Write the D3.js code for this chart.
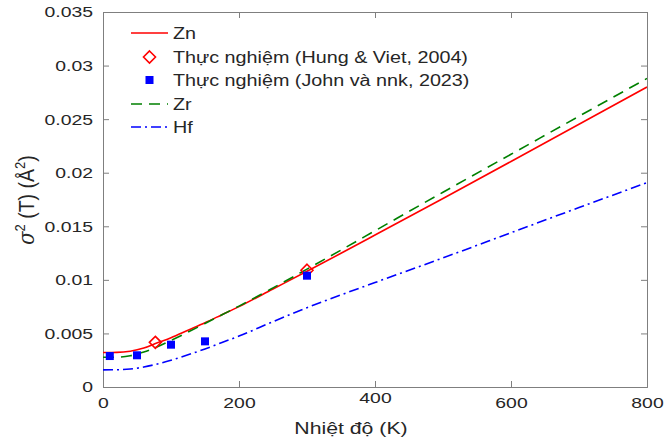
<!DOCTYPE html>
<html><head><meta charset="utf-8">
<script src="https://cdn.jsdelivr.net/npm/d3@7"></script>
<style>body{margin:0;background:#fff;} text{font-family:"Liberation Sans",Arial,sans-serif;}</style>
</head><body>
<svg id="c" width="665" height="440"></svg>
<script>
const temps = [0, 20, 40, 60, 80, 100, 125, 150, 175, 200, 250, 300, 350, 400, 500, 600, 700, 800];
const zn = [0.00322, 0.00323, 0.00334, 0.00363, 0.00412, 0.00460, 0.00530, 0.00600, 0.00675, 0.00750, 0.00915, 0.01080, 0.01248, 0.01418, 0.01760, 0.02105, 0.02452, 0.02800];
const zr = [0.00277, 0.00278, 0.00292, 0.00326, 0.00376, 0.00435, 0.00512, 0.00593, 0.00674, 0.00755, 0.00925, 0.01100, 0.01278, 0.01458, 0.01818, 0.02172, 0.02527, 0.02880];
const hf = [0.00160, 0.00161, 0.00168, 0.00186, 0.00215, 0.00250, 0.00300, 0.00355, 0.00415, 0.00475, 0.00610, 0.00740, 0.00860, 0.00975, 0.01205, 0.01440, 0.01675, 0.01907];
const hungT = [77, 300];
const hungV = [0.00417, 0.01090];
const johnT = [10, 50, 100, 150, 300];
const johnV = [0.00289, 0.00296, 0.00395, 0.00426, 0.01039];
const xTicks = [0, 200, 400, 600, 800];
const yTicks = [0, 0.005, 0.01, 0.015, 0.02, 0.025, 0.03, 0.035];
const legendLabels = ["Zn", "Thực nghiệm (Hung & Viet, 2004)", "Thực nghiệm (John và nnk, 2023)", "Zr", "Hf"];

const svg = d3.select("#c");
const L = 103, R = 647, T = 12, B = 387;
const x = d3.scaleLinear().domain([0, 800]).range([L, R]);
const y = d3.scaleLinear().domain([0, 0.035]).range([B, T]);
const axisCol = "#7f7f7f", txtCol = "#262626";

svg.append("clipPath").attr("id","pc").append("rect")
  .attr("x", L).attr("y", T).attr("width", R-L).attr("height", B-T);

function styleAxis(g){
  g.selectAll("path").attr("stroke", axisCol);
  g.selectAll("line").attr("stroke", axisCol);
  g.selectAll("text").attr("fill", txtCol).style("font-size","15.5px").classed("hs", true);
}
const fmtY = d => d === 0 ? "0" : String(+d.toFixed(3));
const xb = svg.append("g").attr("transform",`translate(0,${B})`)
  .call(d3.axisBottom(x).tickValues(xTicks).tickSize(-6).tickPadding(10).tickFormat(d3.format("d")))
  .call(styleAxis);
xb.selectAll(".tick text").filter(d => d === 400).attr("y", 5);
svg.append("g").attr("transform",`translate(0,${T})`)
  .call(d3.axisTop(x).tickValues(xTicks).tickSize(-6).tickFormat(""))
  .call(styleAxis);
svg.append("g").attr("transform",`translate(${L},0)`)
  .call(d3.axisLeft(y).tickValues(yTicks).tickSize(-6).tickPadding(10).tickFormat(fmtY))
  .call(styleAxis);
svg.append("g").attr("transform",`translate(${R},0)`)
  .call(d3.axisRight(y).tickValues(yTicks).tickSize(-6).tickFormat(""))
  .call(styleAxis);
svg.selectAll(".domain").attr("stroke", axisCol).attr("stroke-width", 1);

const plot = svg.append("g").attr("clip-path","url(#pc)");
const line = d3.line().x(d => x(d[0])).y(d => y(d[1])).curve(d3.curveMonotoneX);
const series = [
  {v: zn, color: "#ff0000", dash: null},
  {v: zr, color: "#008000", dash: "11,7"},
  {v: hf, color: "#0000ff", dash: "10,4,2,4"}
];
series.forEach(s => {
  plot.append("path").datum(temps.map((t,i)=>[t, s.v[i]]))
    .attr("d", line).attr("fill","none").attr("stroke", s.color)
    .attr("stroke-width", 1.6).attr("stroke-dasharray", s.dash);
});
const dsz = 6;
plot.selectAll(".dia").data(hungT.map((t,i)=>[t,hungV[i]])).enter().append("path")
  .attr("d", d => `M${x(d[0])},${y(d[1])-dsz}L${x(d[0])+dsz},${y(d[1])}L${x(d[0])},${y(d[1])+dsz}L${x(d[0])-dsz},${y(d[1])}Z`)
  .attr("fill","none").attr("stroke","#ff0000").attr("stroke-width",1.6);
const sq = 8;
plot.selectAll(".sq").data(johnT.map((t,i)=>[t,johnV[i]])).enter().append("rect")
  .attr("x", d => x(d[0]) - sq/2).attr("y", d => y(d[1]) - sq/2)
  .attr("width", sq).attr("height", sq).attr("fill","#0000ff");

// legend
const lg = svg.append("g");
const rowY = [33, 57, 80, 104, 127];
const lx0 = 131, lx1 = 168;
legendLabels.forEach((lab,i) => {
  const yy = rowY[i];
  const cx = (lx0+lx1)/2;
  if (i === 0 || i === 3 || i === 4) {
    const s = series[i===0?0:(i===3?1:2)];
    lg.append("line").attr("x1",lx0).attr("x2",lx1).attr("y1",yy).attr("y2",yy)
      .attr("stroke", s.color).attr("stroke-width",1.6).attr("stroke-dasharray", s.dash);
  } else if (i === 1) {
    lg.append("path").attr("d",`M${cx},${yy-dsz}L${cx+dsz},${yy}L${cx},${yy+dsz}L${cx-dsz},${yy}Z`)
      .attr("fill","none").attr("stroke","#ff0000").attr("stroke-width",1.6);
  } else {
    lg.append("rect").attr("x",cx-sq/2).attr("y",yy-sq/2).attr("width",sq).attr("height",sq).attr("fill","#0000ff");
  }
  lg.append("text").attr("class","hs").attr("x",173).attr("y",yy).attr("dy","0.36em")
    .attr("fill",txtCol).style("font-size","15.8px").text(lab);
});

// axis labels
svg.append("text").attr("class","hs").attr("x",351).attr("y",434).attr("text-anchor","middle")
  .attr("fill",txtCol).style("font-size","17px").text("Nhiệt độ (K)");
const yl = svg.append("text").attr("transform","translate(34,200) rotate(-90) scale(1,1.15)")
  .attr("text-anchor","middle").attr("fill",txtCol).style("font-size","19.5px");
yl.append("tspan").style("font-family","'DejaVu Serif',serif").style("font-style","italic").text("σ");
yl.append("tspan").attr("dy","-8").style("font-size","13px").text("2");
yl.append("tspan").attr("dy","8").text(" (T) (Å");
yl.append("tspan").attr("dy","-8").style("font-size","13px").text("2");
yl.append("tspan").attr("dy","8").text(")");

// horizontal stretch of text to match reference proportions
svg.selectAll("text.hs").each(function(){
  const n = this, len = n.getComputedTextLength();
  if (len > 0) d3.select(n).attr("textLength", len*1.25).attr("lengthAdjust","spacingAndGlyphs");
});
</script>
</body></html>
